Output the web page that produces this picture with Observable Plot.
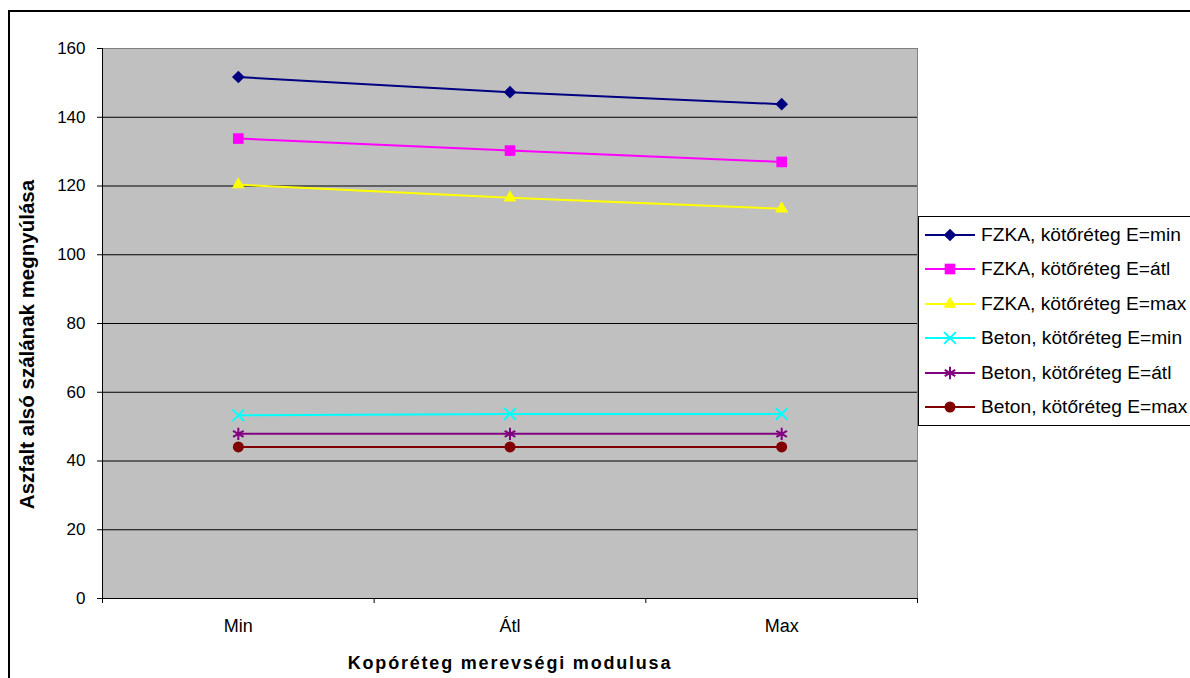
<!DOCTYPE html>
<html>
<head>
<meta charset="utf-8">
<script src="https://cdn.jsdelivr.net/npm/d3@7"></script>
<script src="https://cdn.jsdelivr.net/npm/@observablehq/plot@0.6"></script>
<style>
  html, body { margin: 0; padding: 0; background: #fff; width: 1190px; height: 678px; overflow: hidden; position: relative;
    font-family: Arial, "Liberation Sans", sans-serif; }
  #frame { position: absolute; left: 8px; top: 10px; width: 1400px; height: 900px; border-top: 2px solid #000; border-left: 2px solid #000; }
  #chart { position: absolute; left: 0; top: 0; }
  #legend { position: absolute; left: 918px; top: 216px; width: 300px; height: 208px; border: 1px solid #000; background: #fff; }
  .row { position: absolute; left: 0; display: flex; align-items: center; font-size: 19.2px; white-space: nowrap; color: #000; }
  .row svg { display: block; margin-right: 5px; }
</style>
</head>
<body>
<div id="frame"></div>
<div id="chart"></div>
<div id="legend"></div>
<script>
// Categories on the x axis (stiffness modulus of the wearing course)
const categories = ["Min", "Átl", "Max"];

// Series names
const seriesNames = [
  "FZKA, kötőréteg E=min",
  "FZKA, kötőréteg E=átl",
  "FZKA, kötőréteg E=max",
  "Beton, kötőréteg E=min",
  "Beton, kötőréteg E=átl",
  "Beton, kötőréteg E=max"
];

// Strain at the bottom of the asphalt, per series
const fzkaMin  = [151.7, 147.3, 143.8];
const fzkaAtl  = [133.8, 130.3, 127.0];
const fzkaMax  = [120.4, 116.6, 113.4];
const betonMin = [53.3, 53.7, 53.7];
const betonAtl = [47.9, 47.9, 47.9];
const betonMax = [44.1, 44.1, 44.1];

// Y axis tick values
const yTicks = [0, 20, 40, 60, 80, 100, 120, 140, 160];

// Axis titles
const xTitle = "Kopóréteg merevségi modulusa";
const yTitle = "Aszfalt alsó szálának megnyúlása";

// Styling per series: colour, marker symbol, marker radius, filled or stroked marker
const seriesStyles = [
  {color: "#000080", symbol: "diamond2", r: 5.7, filled: true},
  {color: "#FF00FF", symbol: "square",   r: 6.0, filled: true},
  {color: "#FFFF00", symbol: "triangle", r: 4.8, filled: true},
  {color: "#00FFFF", symbol: "times",    r: 5.4, filled: false},
  {color: "#800080", symbol: "asterisk", r: 5.8, filled: false},
  {color: "#800000", symbol: "circle",   r: 5.5, filled: true}
];

const seriesValues = [fzkaMin, fzkaAtl, fzkaMax, betonMin, betonAtl, betonMax];

// Long-format table: one row per series and category
const rows = seriesNames.flatMap((name, s) =>
  categories.map((cat, i) => ({series: name, s, cat, idx: i, value: seriesValues[s][i]}))
);

const lineMarks = seriesNames.map((name, s) =>
  Plot.line(rows.filter(d => d.s === s), {
    x: "idx", y: "value", stroke: seriesStyles[s].color, strokeWidth: 2
  })
);
const dotMarks = seriesNames.map((name, s) => {
  const st = seriesStyles[s];
  return Plot.dot(rows.filter(d => d.s === s), {
    x: "idx", y: "value", symbol: () => st.symbol, r: st.r,
    fill: st.filled ? st.color : "none",
    stroke: st.filled ? "none" : st.color,
    strokeWidth: st.filled ? 0 : 2
  });
});

const font = "Arial, 'Liberation Sans', sans-serif";
const boundaries = d3.range(categories.length + 1).map(i => i - 0.5);

const chart = Plot.plot({
  width: 1190,
  height: 678,
  marginLeft: 102,
  marginRight: 273,
  marginTop: 48,
  marginBottom: 80,
  style: {background: "transparent", fontFamily: font, color: "#000", overflow: "visible"},
  x: {domain: [-0.5, categories.length - 0.5]},
  y: {domain: [0, 160]},
  symbol: {type: "identity"},
  marks: [
    Plot.frame({fill: "#C0C0C0", stroke: "#808080"}),
    Plot.gridY({ticks: yTicks.filter(v => v > 0 && v < 160), stroke: "#000", strokeOpacity: 1}),
    Plot.ruleX([-0.5], {stroke: "#000"}),
    Plot.ruleY([0], {stroke: "#000"}),
    Plot.axisY({ticks: yTicks, tickSize: 5, tickPadding: 12, fontSize: 17, label: null, stroke: "#000"}),
    Plot.axisX({ticks: boundaries, tickSize: 5, tickFormat: () => "", label: null, stroke: "#000"}),
    Plot.axisX({ticks: d3.range(categories.length), tickSize: 0, tickPadding: 21, fontSize: 18,
      tickFormat: i => categories[i], label: null}),
    ...lineMarks,
    ...dotMarks,
    Plot.text([xTitle], {text: d => d, frameAnchor: "bottom", lineAnchor: "bottom", dy: 70,
      fontSize: 18, fontWeight: "bold", fill: "#000"}),
    Plot.text([yTitle], {text: d => d, frameAnchor: "left", rotate: -90, lineAnchor: "bottom",
      textAnchor: "middle", dx: -69, dy: 21, fontSize: 20.5, fontWeight: "bold", fill: "#000"})
  ]
});

d3.select(chart).selectAll("text")
  .filter(function () { return this.textContent === xTitle; })
  .attr("letter-spacing", 1.8);

document.getElementById("chart").appendChild(chart);

// Legend: line sample with marker, then the series name
const legend = d3.select("#legend");
seriesNames.forEach((name, s) => {
  const st = seriesStyles[s];
  const row = legend.append("div").attr("class", "row")
    .style("top", (18 + s * 34.4 - 12) + "px").style("height", "24px");
  const svg = row.append("svg").attr("width", 57).attr("height", 24);
  svg.append("line").attr("x1", 6).attr("x2", 56).attr("y1", 12).attr("y2", 12)
    .attr("stroke", st.color).attr("stroke-width", 2);
  const symbolType = {
    diamond2: d3.symbolDiamond2, square: d3.symbolSquare, triangle: d3.symbolTriangle,
    times: d3.symbolTimes, asterisk: d3.symbolAsterisk, circle: d3.symbolCircle
  }[st.symbol];
  svg.append("path")
    .attr("transform", "translate(31,12)")
    .attr("d", d3.symbol(symbolType, st.r * st.r * Math.PI)())
    .attr("fill", st.filled ? st.color : "none")
    .attr("stroke", st.filled ? "none" : st.color)
    .attr("stroke-width", st.filled ? 0 : 2);
  row.append("span").text(name);
});
</script>
</body>
</html>
